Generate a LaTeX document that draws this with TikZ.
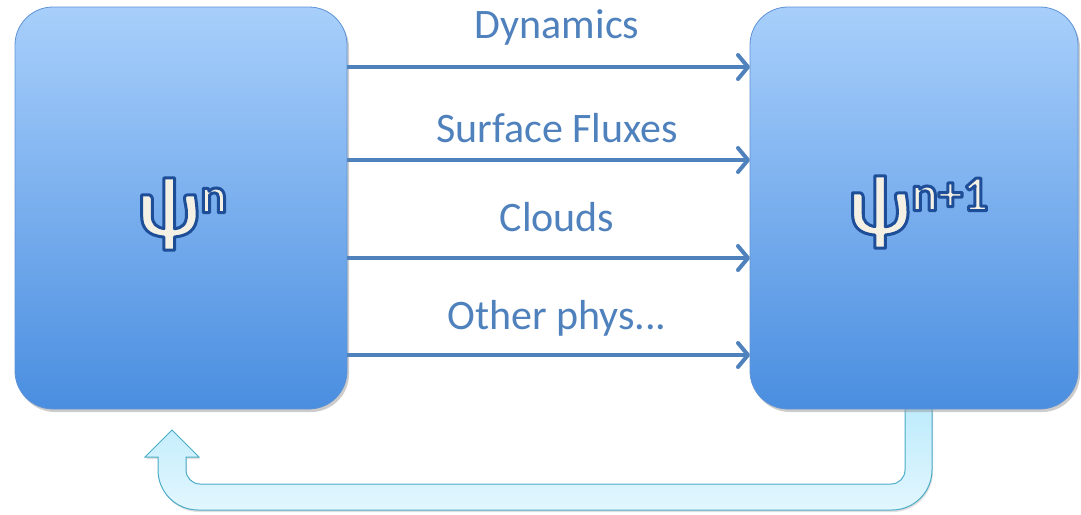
\documentclass[tikz,border=0pt]{standalone}
\usepackage{fontspec}
\setmainfont{Carlito}
\usetikzlibrary{arrows.meta,shadows}
\definecolor{boxtop}{HTML}{A8CFFB}
\definecolor{boxbot}{HTML}{4A8EE0}
\definecolor{boxline}{HTML}{5E93D6}
\definecolor{arrblue}{HTML}{4F81BD}
\definecolor{cream}{HTML}{F4F1E4}
\definecolor{psiline}{HTML}{1F4E99}
\definecolor{rettop}{HTML}{BCEBFC}
\definecolor{retbot}{HTML}{E2F6FE}
\definecolor{retline}{HTML}{4BACC6}
\newcommand{\outl}[1]{\textcolor{cream}{\special{pdf:code 2 Tr 3 w 0.122 0.306 0.6 RG 1 j}#1\special{pdf:code 0 Tr}}}
\newcommand{\psitext}[1]{\outl{\bfseries\fontsize{86}{88}\selectfont ψ}\raisebox{24pt}{\outl{\bfseries\fontsize{50}{54}\selectfont #1}}}
\tikzset{
  statebox/.style={rounded corners=38pt, draw=boxline, line width=0.8pt,
    top color=boxtop, bottom color=boxbot,
    drop shadow={shadow xshift=2pt, shadow yshift=-3pt, fill=black!40, opacity=0.5}},
  flow/.style={draw=arrblue, line width=4pt,
    -{Straight Barb[length=10pt,width=24pt,line width=4pt,round]}},
  flowlabel/.style={text=arrblue, font=\fontsize{42}{46}\selectfont, anchor=center},
  ret/.style={draw=retline, line width=1pt, top color=rettop, bottom color=retbot,
    drop shadow={shadow xshift=1pt, shadow yshift=-2pt, fill=black!30, opacity=0.4}}
}
\begin{document}
\begin{tikzpicture}[x=1pt,y=-1pt]
\useasboundingbox (0,0) rectangle (1081,514);
% return arrow
\path[ret] (932,400) -- (932,470) arc[start angle=0,end angle=90,radius=40] -- (198,510)
  arc[start angle=90,end angle=180,radius=40] -- (158,457) -- (145,457) -- (172,430) -- (199,457) -- (186,457)
  -- (186,470) arc[start angle=180,end angle=90,radius=14] -- (891,484)
  arc[start angle=90,end angle=0,radius=14] -- (905,400) -- cycle;
% boxes
\node[statebox, minimum width=332pt, minimum height=402pt] (L) at (181,208) {};
\node[statebox, minimum width=328pt, minimum height=402pt] (R) at (914,208) {};
\node (Lpsi) at (182,214) {\psitext{n}};
\node (Rpsi) at (918,212) {\psitext{n+1}};
% flows
\coordinate (l1) at (347,67);  \coordinate (r1) at (750,67);
\coordinate (l2) at (347,160); \coordinate (r2) at (750,160);
\coordinate (l3) at (347,258); \coordinate (r3) at (750,258);
\coordinate (l4) at (347,355); \coordinate (r4) at (750,355);
\draw[flow] (l1) -- (r1);
\draw[flow] (l2) -- (r2);
\draw[flow] (l3) -- (r3);
\draw[flow] (l4) -- (r4);
\node[flowlabel] (t1) at (557,27) {Dynamics};
\node[flowlabel] (t2) at (557,128) {Surface Fluxes};
\node[flowlabel] (t3) at (557,217) {Clouds};
\node[flowlabel] (t4) at (557,318) {Other phys{.}{.}{.}};
\end{tikzpicture}
\end{document}
